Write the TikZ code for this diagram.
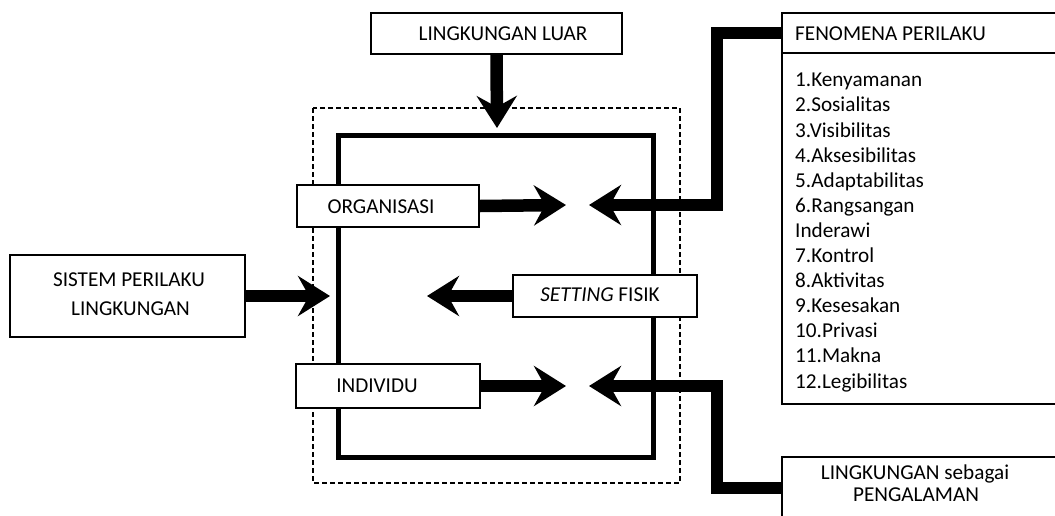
\documentclass[tikz,border=0pt]{standalone}
\usepackage{fontspec}
\setmainfont{Carlito}
\usetikzlibrary{arrows.meta}
\begin{document}
\begin{tikzpicture}[x=1pt,y=-1pt,
  box/.style={draw, line width=1.6pt, fill=white, inner sep=0pt, rectangle},
  txt/.style={inner sep=0pt, font=\fontsize{21.2}{25.1}\selectfont},
  big/.style={line width=12.5pt, line join=miter, -{Stealth[length=32pt,width=40pt,inset=11pt]}},
  dashrect/.style={line width=1.8pt, dash pattern=on 5pt off 3pt},
  innerrect/.style={line width=5pt}
]
\useasboundingbox (0,0) rectangle (1055,515);
\clip (0,0) rectangle (1055,515);
% frames
\draw[dashrect] (313,108) rectangle (680,483);
\draw[innerrect] (338,135) rectangle (653,457);
% boxes
\node[box, minimum width=251pt, minimum height=41pt] (luar) at (496.5,33.5) {};
\node[txt, anchor=base] (luart) at (503,40) {LINGKUNGAN LUAR};
\node[box, minimum width=278pt, minimum height=40pt] (fenh) at (921,33) {};
\node[box, minimum width=278pt, minimum height=351pt] (fenl) at (921,228.5) {};
\node[txt, anchor=base west] (fent) at (795,40) {FENOMENA PERILAKU};
\node[txt, anchor=north west, align=left] (list) at (795,73) {1.Kenyamanan\\2.Sosialitas\\3.Visibilitas\\4.Aksesibilitas\\5.Adaptabilitas\\6.Rangsangan\\Inderawi\\7.Kontrol\\8.Aktivitas\\9.Kesesakan\\10.Privasi\\11.Makna\\12.Legibilitas};
\node[box, minimum width=235pt, minimum height=82pt] (sis) at (127.5,296) {};
\node[txt, anchor=base] (sist1) at (129,286.7) {SISTEM PERILAKU};
\node[txt, anchor=base] (sist2) at (130.5,315) {LINGKUNGAN};
\node[box, minimum width=182pt, minimum height=42pt] (org) at (388,206) {};
\node[txt, anchor=base] (orgt) at (381,213.3) {ORGANISASI};
\node[box, minimum width=184pt, minimum height=42pt] (set) at (605,296) {};
\node[txt, anchor=base] (sett) at (600,301.7) {\textit{SETTING} FISIK};
\node[box, minimum width=184pt, minimum height=44pt] (ind) at (388,386) {};
\node[txt, anchor=base] (indt) at (377,392.3) {INDIVIDU};
\node[box, minimum width=278pt, minimum height=62pt] (peng) at (921,488) {};
\node[txt, anchor=base] (pengt1) at (915,479) {LINGKUNGAN sebagai};
\node[txt, anchor=base] (pengt2) at (916,501) {PENGALAMAN};
% tips and corners
\coordinate (tl) at (497,128);
\coordinate (ts) at (330,296);
\coordinate (to) at (566,205);
\coordinate (tf) at (589,205);
\coordinate (cf) at (717,205);
\coordinate (tst) at (427,296);
\coordinate (ti) at (566,386);
\coordinate (tp) at (589,386);
\coordinate (cp) at (717,386);
% connectors
\draw[big] (luar.south) -- (tl);
\draw[big] (sis.east) -- (ts);
\draw[big] (org.east) -- (to);
\draw[big] (fenh.west) -| (cf) -- (tf);
\draw[big] (set.west) -- (tst);
\draw[big] (ind.east) -- (ti);
\draw[big] (peng.west) -| (cp) -- (tp);
\end{tikzpicture}
\end{document}
